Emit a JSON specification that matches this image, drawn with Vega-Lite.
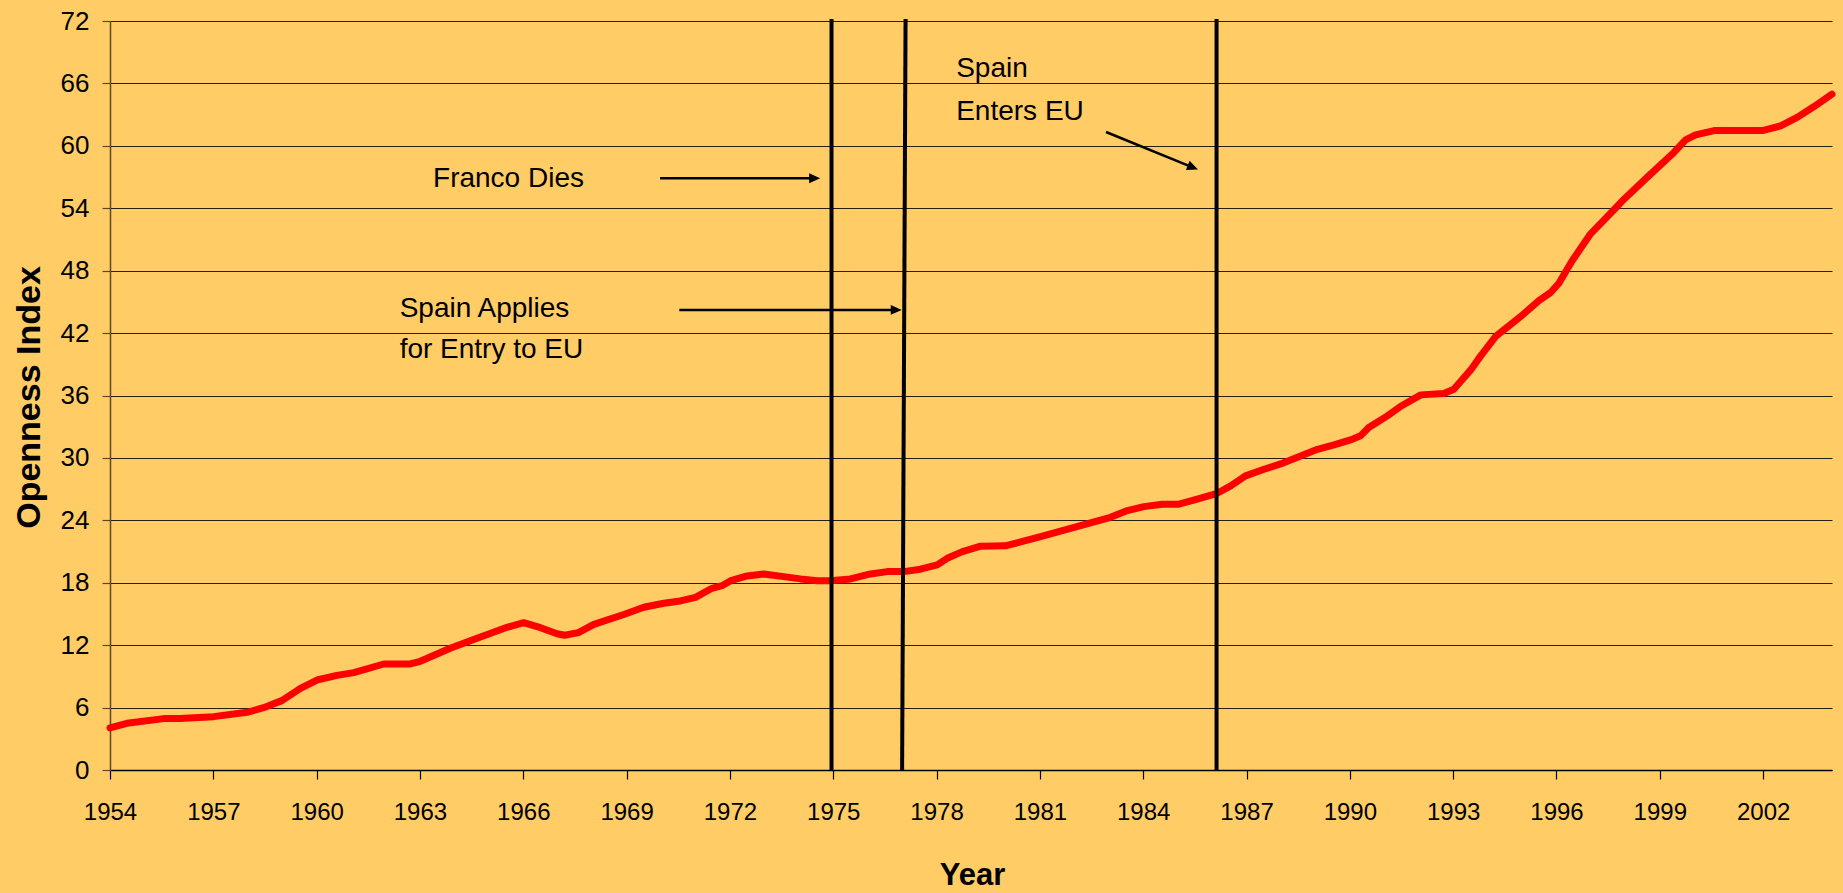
{
  "$schema": "https://vega.github.io/schema/vega-lite/v6.json",
  "width": 1722,
  "height": 749,
  "autosize": {"type": "none"},
  "padding": {"left": 110, "top": 21, "right": 11, "bottom": 123},
  "background": "#FFCC66",
  "config": {"view": {"stroke": null}, "font": "Liberation Sans"},
  "datasets": {
    "series": [
      {"year": 1954.00, "index": 4.05},
      {"year": 1954.49, "index": 4.49},
      {"year": 1955.56, "index": 4.94},
      {"year": 1956.04, "index": 4.94},
      {"year": 1957.01, "index": 5.13},
      {"year": 1957.98, "index": 5.55},
      {"year": 1958.46, "index": 5.99},
      {"year": 1958.99, "index": 6.67},
      {"year": 1959.53, "index": 7.85},
      {"year": 1960.01, "index": 8.65},
      {"year": 1960.59, "index": 9.10},
      {"year": 1961.08, "index": 9.36},
      {"year": 1961.95, "index": 10.19},
      {"year": 1962.72, "index": 10.19},
      {"year": 1963.01, "index": 10.45},
      {"year": 1963.88, "index": 11.70},
      {"year": 1964.46, "index": 12.43},
      {"year": 1965.53, "index": 13.72},
      {"year": 1966.01, "index": 14.16},
      {"year": 1966.50, "index": 13.68},
      {"year": 1966.98, "index": 13.10},
      {"year": 1967.20, "index": 12.95},
      {"year": 1967.60, "index": 13.20},
      {"year": 1968.05, "index": 14.00},
      {"year": 1968.92, "index": 14.95},
      {"year": 1969.50, "index": 15.64},
      {"year": 1970.08, "index": 16.03},
      {"year": 1970.56, "index": 16.25},
      {"year": 1971.00, "index": 16.60},
      {"year": 1971.48, "index": 17.47},
      {"year": 1971.77, "index": 17.72},
      {"year": 1972.02, "index": 18.20},
      {"year": 1972.50, "index": 18.65},
      {"year": 1972.98, "index": 18.85},
      {"year": 1973.56, "index": 18.59},
      {"year": 1974.05, "index": 18.37},
      {"year": 1974.53, "index": 18.20},
      {"year": 1974.92, "index": 18.20},
      {"year": 1975.50, "index": 18.37},
      {"year": 1976.08, "index": 18.85},
      {"year": 1976.57, "index": 19.07},
      {"year": 1977.05, "index": 19.07},
      {"year": 1977.53, "index": 19.30},
      {"year": 1978.02, "index": 19.71},
      {"year": 1978.31, "index": 20.35},
      {"year": 1978.75, "index": 20.99},
      {"year": 1979.28, "index": 21.52},
      {"year": 1980.00, "index": 21.55},
      {"year": 1981.02, "index": 22.44},
      {"year": 1982.18, "index": 23.49},
      {"year": 1983.05, "index": 24.29},
      {"year": 1983.54, "index": 24.94},
      {"year": 1984.02, "index": 25.32},
      {"year": 1984.55, "index": 25.55},
      {"year": 1985.04, "index": 25.55},
      {"year": 1985.57, "index": 26.03},
      {"year": 1986.15, "index": 26.60},
      {"year": 1986.54, "index": 27.31},
      {"year": 1986.97, "index": 28.27},
      {"year": 1987.51, "index": 28.91},
      {"year": 1987.99, "index": 29.42},
      {"year": 1988.57, "index": 30.19},
      {"year": 1989.06, "index": 30.83},
      {"year": 1989.54, "index": 31.25},
      {"year": 1990.02, "index": 31.73},
      {"year": 1990.31, "index": 32.12},
      {"year": 1990.55, "index": 32.92},
      {"year": 1991.09, "index": 34.04},
      {"year": 1991.48, "index": 34.97},
      {"year": 1992.06, "index": 36.06},
      {"year": 1992.73, "index": 36.20},
      {"year": 1993.02, "index": 36.60},
      {"year": 1993.51, "index": 38.46},
      {"year": 1993.80, "index": 39.81},
      {"year": 1994.23, "index": 41.67},
      {"year": 1994.96, "index": 43.59},
      {"year": 1995.49, "index": 45.13},
      {"year": 1995.83, "index": 45.90},
      {"year": 1996.07, "index": 46.79},
      {"year": 1996.46, "index": 48.97},
      {"year": 1996.99, "index": 51.54},
      {"year": 1997.67, "index": 53.85},
      {"year": 1997.96, "index": 54.87},
      {"year": 1998.64, "index": 56.99},
      {"year": 1999.41, "index": 59.36},
      {"year": 1999.75, "index": 60.58},
      {"year": 2000.04, "index": 61.06},
      {"year": 2000.58, "index": 61.47},
      {"year": 2001.16, "index": 61.47},
      {"year": 2001.98, "index": 61.47},
      {"year": 2002.51, "index": 61.92},
      {"year": 2003.00, "index": 62.76},
      {"year": 2003.48, "index": 63.78},
      {"year": 2004.00, "index": 64.97}
    ],
    "events": [
      {"year": 1974.95, "year2": 1974.95, "index": 72.2, "index2": 0},
      {"year": 1977.10, "year2": 1977.00, "index": 72.2, "index2": 0},
      {"year": 1986.13, "year2": 1986.13, "index": 72.2, "index2": 0}
    ],
    "shafts": [
      {"year": 1969.97, "year2": 1974.45, "index": 56.89, "index2": 56.89},
      {"year": 1970.53, "year2": 1976.80, "index": 44.23, "index2": 44.23},
      {"year": 1982.92, "year2": 1985.40, "index": 61.33, "index2": 57.97}
    ],
    "heads": [
      {"year": 1974.62, "index": 56.89, "angle": 0},
      {"year": 1976.99, "index": 44.23, "angle": 0},
      {"year": 1985.59, "index": 57.72, "angle": 22}
    ],
    "notes": [
      {"year": 1963.38, "index": 56.03, "label": "Franco Dies"},
      {"year": 1962.41, "index": 43.59, "label": "Spain Applies"},
      {"year": 1962.41, "index": 39.59, "label": "for Entry to EU"},
      {"year": 1978.57, "index": 66.58, "label": "Spain"},
      {"year": 1978.57, "index": 62.50, "label": "Enters EU"}
    ]
  },
  "layer": [
    {
      "data": {"name": "series"},
      "mark": {"type": "line", "color": "#FF0000", "strokeWidth": 7, "strokeCap": "round", "strokeJoin": "round"},
      "encoding": {
        "x": {
          "field": "year", "type": "quantitative",
          "scale": {"domain": [1954, 2004], "nice": false, "zero": false},
          "axis": {
            "title": "Year",
            "values": [1954, 1957, 1960, 1963, 1966, 1969, 1972, 1975, 1978, 1981, 1984, 1987, 1990, 1993, 1996, 1999, 2002],
            "format": "d",
            "grid": false,
            "labelFont": "Liberation Sans",
            "labelFontSize": 24,
            "labelColor": "#000000",
            "labelPadding": 21,
            "labelFlush": false,
            "labelOverlap": false,
            "labelBound": false,
            "tickSize": 9,
            "tickColor": "#000000",
            "tickWidth": 1.2,
            "domainColor": "#000000",
            "domainWidth": 1.5,
            "titleFont": "Liberation Sans",
            "titleFontSize": 31,
            "titleFontWeight": "bold",
            "titleColor": "#000000",
            "titleX": 862,
            "titleY": 114,
            "titleAlign": "center",
            "titleBaseline": "alphabetic"
          }
        },
        "y": {
          "field": "index", "type": "quantitative",
          "scale": {"domain": [0, 72], "nice": false},
          "axis": {
            "title": "Openness Index",
            "values": [0, 6, 12, 18, 24, 30, 36, 42, 48, 54, 60, 66, 72],
            "grid": true,
            "gridColor": "#000000",
            "gridWidth": 1,
            "gridOpacity": 0.85,
            "labelFont": "Liberation Sans",
            "labelFontSize": 26,
            "labelColor": "#000000",
            "labelPadding": 13,
            "labelFlush": false,
            "labelOverlap": false,
            "labelBound": false,
            "tickSize": 8,
            "tickColor": "#5a4a2a",
            "tickWidth": 1.2,
            "domainColor": "#5a4a2a",
            "domainWidth": 1.5,
            "titleFont": "Liberation Sans",
            "titleFontSize": 34,
            "titleFontWeight": "bold",
            "titleColor": "#000000",
            "titleAngle": -90,
            "titleX": -81,
            "titleY": 376,
            "titleAlign": "center",
            "titleBaseline": "middle"
          }
        }
      }
    },
    {
      "data": {"name": "events"},
      "mark": {"type": "rule", "color": "#000000", "strokeWidth": 4},
      "encoding": {
        "x": {"field": "year", "type": "quantitative"},
        "x2": {"field": "year2"},
        "y": {"field": "index", "type": "quantitative"},
        "y2": {"field": "index2"}
      }
    },
    {
      "data": {"name": "shafts"},
      "mark": {"type": "rule", "color": "#000000", "strokeWidth": 2.5},
      "encoding": {
        "x": {"field": "year", "type": "quantitative"},
        "x2": {"field": "year2"},
        "y": {"field": "index", "type": "quantitative"},
        "y2": {"field": "index2"}
      }
    },
    {
      "data": {"name": "heads"},
      "mark": {"type": "point", "shape": "M0,0L-2,-0.9L-2,0.9Z", "size": 121, "filled": true, "color": "#000000", "opacity": 1, "strokeWidth": 0},
      "encoding": {
        "x": {"field": "year", "type": "quantitative"},
        "y": {"field": "index", "type": "quantitative"},
        "angle": {"field": "angle", "type": "quantitative", "scale": null}
      }
    },
    {
      "data": {"name": "notes"},
      "mark": {"type": "text", "align": "left", "baseline": "alphabetic", "font": "Liberation Sans", "fontSize": 28, "color": "#000000"},
      "encoding": {
        "x": {"field": "year", "type": "quantitative"},
        "y": {"field": "index", "type": "quantitative"},
        "text": {"field": "label"}
      }
    }
  ]
}
